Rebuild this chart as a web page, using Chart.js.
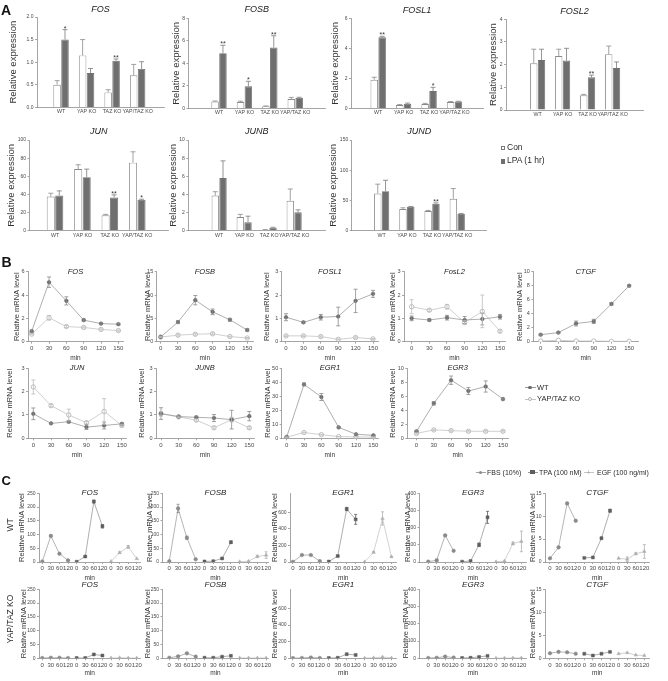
<!DOCTYPE html>
<html>
<head>
<meta charset="utf-8">
<script src="https://cdn.jsdelivr.net/npm/chart.js@4.4.1/dist/chart.umd.min.js"></script>
<style>
  html, body { margin: 0; padding: 0; background: #fff; }
  body { width: 668px; height: 681px; position: relative; overflow: hidden;
         font-family: 'Liberation Sans', Arial, Helvetica, sans-serif; }
</style>
</head>
<body>
<script>
// ---------- data ----------
// panel A: relative expression, Con vs LPA (1 hr)
const groups = ['WT', 'YAP KO', 'TAZ KO', 'YAP/TAZ KO'];
const aGenes = ['FOS', 'FOSB', 'FOSL1', 'FOSL2', 'JUN', 'JUNB', 'JUND'];
const aCon = [[0.50, 1.15, 0.33, 0.71], [0.60, 0.55, 0.18, 0.82], [1.90, 0.22, 0.28, 0.42],
  [2.06, 2.38, 0.65, 2.46], [37.6, 67.9, 17.0, 75.0], [3.87, 1.50, 0.10, 3.30], [61.5, 35.7, 32.4, 52.7]];
const aConErr = [[0.09, 0.35, 0.06, 0.24], [0.05, 0.08, 0.03, 0.15], [0.17, 0.03, 0.05, 0.03],
  [0.62, 0.30, 0.04, 0.36], [3.7, 4.8, 1.0, 12], [0.43, 0.30, 0.03, 1.3], [15.5, 2.2, 1.1, 17]];
const aLpa = [[1.50, 0.76, 1.03, 0.85], [4.90, 1.95, 5.40, 0.92], [4.73, 0.30, 1.15, 0.45],
  [2.20, 2.18, 1.44, 1.85], [38.7, 59.0, 36.5, 34.0], [5.80, 0.92, 0.33, 2.03], [65.4, 39.6, 44.5, 28.0]];
const aLpaErr = [[0.22, 0.10, 0.04, 0.16], [0.70, 0.45, 1.05, 0.06], [0.07, 0.05, 0.25, 0.02],
  [0.48, 0.54, 0.10, 0.27], [5.2, 8.9, 3.0, 0.7], [1.9, 0.68, 0.05, 0.27], [18, 0.5, 1.5, 0.5]];
const aStars = [['*', '', '**', ''], ['**', '*', '**', ''], ['**', '', '*', ''], ['', '', '**', ''],
  ['', '', '**', '*'], ['', '', '', ''], ['', '', '**', '']];
const aYMax = [2, 8, 6, 4, 100, 10, 150];
const aYStep = [0.5, 2, 2, 1, 20, 2, 50];

// panel B: time course, WT vs YAP/TAZ KO
const bMinutes = [0, 30, 60, 90, 120, 150];
const bGenes = ['FOS', 'FOSB', 'FOSL1', 'FosL2', 'CTGF', 'JUN', 'JUNB', 'EGR1', 'EGR3'];
const bWt = [[0.9, 5.1, 3.5, 1.85, 1.55, 1.5], [1.0, 4.2, 8.9, 6.4, 4.7, 2.5], [1.05, 0.83, 1.05, 1.08, 1.75, 2.05],
  [1.0, 0.93, 1.03, 0.93, 0.97, 1.07], [1.0, 1.3, 2.6, 2.9, 5.4, 8.0], [1.05, 0.64, 0.71, 0.48, 0.55, 0.62],
  [1.06, 0.93, 0.9, 0.87, 0.8, 0.95], [0.8, 38.5, 29.5, 7.8, 2.9, 2.1], [1.0, 5.0, 8.3, 6.75, 7.4, 5.6]];
const bWtErr = [[0.1, 0.45, 0.35, 0.1, 0.08, 0.08], [0.1, 0.3, 1.0, 0.6, 0.3, 0.3], [0.15, 0.04, 0.12, 0.4, 0.5, 0.15],
  [0.1, 0.05, 0.1, 0.15, 0.25, 0.1], [0.1, 0.1, 0.35, 0.3, 0.2, 0.15], [0.25, 0.03, 0.05, 0.1, 0.15, 0.05],
  [0.25, 0.03, 0.05, 0.15, 0.4, 0.2], [0.3, 1.0, 2.5, 0.5, 0.3, 0.3], [0.1, 0.25, 0.6, 0.5, 0.8, 0.1]];
const bKo = [[0.65, 2.05, 1.3, 1.22, 1.05, 0.95], [1.0, 1.4, 1.6, 1.7, 1.1, 0.8], [0.25, 0.25, 0.22, 0.1, 0.18, 0.12],
  [1.5, 1.35, 1.5, 0.82, 1.3, 0.45], [0.1, 0.2, 0.1, 0.1, 0.05, 0.05], [2.2, 1.4, 1.0, 0.67, 1.15, 0.55],
  [1.05, 0.92, 0.78, 0.45, 0.8, 0.45], [0.8, 4.1, 2.6, 1.2, 1.0, 0.9], [0.7, 1.2, 1.1, 1.0, 1.0, 1.0]];
const bKoErr = [[0.05, 0.2, 0.08, 0.05, 0.05, 0.05], [0.1, 0.2, 0.2, 0.2, 0.1, 0.1], [0.03, 0.03, 0.03, 0.02, 0.03, 0.02],
  [0.3, 0.05, 0.1, 0.08, 0.7, 0.05], [0, 0, 0, 0, 0, 0], [0.3, 0.05, 0.25, 0.05, 0.55, 0.05],
  [0.1, 0.03, 0.05, 0.05, 0.1, 0.05], [0.2, 0.3, 0.3, 0.1, 0.1, 0.1], [0.1, 0.1, 0.1, 0.1, 0.1, 0.1]];
const bYMax = [6, 15, 3, 3, 10, 3, 3, 50, 10];
const bYStep = [2, 5, 1, 1, 2, 1, 1, 10, 2];

// panel C: FBS / TPA / EGF stimulation, WT and YAP/TAZ KO
const cTickLabels = ['0', '30', '60', '120'];
const cGenes = ['FOS', 'FOSB', 'EGR1', 'EGR3', 'CTGF'];
const cFbsWt = [[2, 95, 30, 6], [3, 195, 88, 10], [2, 84, 84, 10], [2, 10, 155, 65], [0.8, 3.2, 12.8, 9.0]];
const cTpaWt = [[1, 20, 220, 130], [2, 3, 13, 72], [5, 72, 640, 515], [2, 6, 100, 260], [0.9, 1.0, 5.2, 11.2]];
const cEgfWt = [[2, 34, 55, 12], [1, 3, 20, 25], [2, 117, 526, 63], [1, 6, 108, 120], [0.8, 0.6, 1.8, 2.3]];
const cFbsWtErr = [[0, 3, 2, 0], [0, 15, 6, 0], [0, 4, 4, 0], [0, 6, 4, 0], [0, 0.2, 0.2, 0.2]];
const cTpaWtErr = [[0, 2, 5, 6], [0, 0, 2, 4], [0, 5, 20, 60], [0, 0, 10, 35], [0, 0, 0.2, 0.3]];
const cEgfWtErr = [[0, 3, 5, 0], [0, 0, 4, 12], [0, 8, 80, 5], [0, 0, 8, 60], [0, 0.5, 0.2, 1.5]];
const cFbsKo = [[1, 2, 2, 1], [2, 7, 18, 6], [3, 4, 10, 4], [2, 3, 10, 4], [1.1, 1.4, 1.3, 1.0]];
const cTpaKo = [[1, 1, 14, 10], [2, 2, 6, 9], [4, 6, 50, 40], [2, 3, 8, 14], [1.0, 0.6, 1.0, 1.4]];
const cEgfKo = [[1, 2, 1, 1], [1, 1, 1, 1], [2, 6, 15, 4], [1, 1, 2, 2], [1.0, 1.2, 0.7, 0.6]];
const cYMax = [250, 250, 830, 400, 15];
const cYTickMax = [250, 250, 600, 400, 15];
const cYStep = [50, 50, 200, 100, 5];

// ---------- layout (plot left, top, right, bottom, y-title x, title dy, x min, x max) ----------
const aLayout = [
  [37, 17, 164, 107.3, 13, -7.7, -0.32, 3.41],
  [188.5, 18.3, 325, 108.3, 176.7, -8.6, -0.53, 3.5],
  [351, 18.3, 483, 108.3, 335, -8.3, -0.42, 3.47],
  [506, 19.3, 643, 110, 493.3, -7.6, -0.58, 3.53],
  [29.5, 140, 168, 230.7, 11.7, -9, -0.3, 3.49],
  [188.3, 140, 325, 230.7, 173.3, -9, -0.55, 3.55],
  [351.7, 140, 486.7, 230.7, 333.3, -9, -0.52, 3.5]
];
const bLayout = [
  [28, 271.7, 123, 341.7, 17, -6.4, 158],
  [156.7, 271.7, 253, 341.7, 148.3, -6.9, 160],
  [281.7, 271.7, 378, 341.7, 266.7, -7.4, 158.6],
  [404, 271.7, 505, 341.7, 392.5, -13, 158.5],
  [533.3, 271.7, 638, 341.7, 520, -12.5, 165],
  [28, 368.3, 126, 438.3, 10, -9, 157],
  [156, 368.3, 254, 438.3, 141.7, -8.5, 158],
  [281.7, 368.3, 378, 438.3, 267.5, -8.6, 158],
  [407.3, 368.3, 508, 438.3, 392.5, -16, 158.7]
];
const cCols = [
  [39, 141, -0.38, 11.43],
  [162.5, 268.5, -0.77, 11.27],
  [290, 397, -0.33, 11.56],
  [419.5, 527, -1.03, 11.6],
  [545, 650, -0.58, 11.6]
];
const cTitleX = [[21.7, 150, 275, 408.3, 532.5], [24, 148, 275, 406, 532.5]];
const cRows = [[493.3, 562, -1, 19], [589.3, 658.3, -4.3, 17.3]];

// ---------- setup ----------
const FONT = "'Liberation Sans', Arial, Helvetica, sans-serif";
const AXIS = '#8e8e8e';
Chart.defaults.font.family = FONT;
Chart.defaults.color = '#4a4a4a';
Chart.defaults.animation = false;
Chart.defaults.responsive = false;
Chart.defaults.devicePixelRatio = 1;
Chart.defaults.plugins.legend.display = false;
Chart.defaults.plugins.tooltip.enabled = false;

// gene titles, error bars and significance stars
const figMarks = {
  id: 'figMarks',
  afterDatasetsDraw(chart) {
    const { ctx } = chart;
    const y = chart.scales.y;
    chart.data.datasets.forEach((ds, i) => {
      if (!ds.errors) return;
      const meta = chart.getDatasetMeta(i);
      ctx.save();
      ctx.strokeStyle = ds.errColor;
      ctx.lineWidth = 0.8;
      meta.data.forEach((el, j) => {
        const e = ds.errors[j];
        if (!e) return;
        const v = ds.data[j].y;
        const top = y.getPixelForValue(v + e);
        const bot = ds.errBoth ? y.getPixelForValue(Math.max(v - e, 0)) : el.y;
        const cw = ds.capW;
        ctx.beginPath();
        ctx.moveTo(el.x, bot); ctx.lineTo(el.x, top);
        ctx.moveTo(el.x - cw / 2, top); ctx.lineTo(el.x + cw / 2, top);
        if (ds.errBoth) { ctx.moveTo(el.x - cw / 2, bot); ctx.lineTo(el.x + cw / 2, bot); }
        ctx.stroke();
        if (ds.stars && ds.stars[j]) {
          ctx.fillStyle = '#333';
          ctx.font = '7px ' + FONT;
          ctx.textAlign = 'center';
          ctx.textBaseline = 'alphabetic';
          ctx.fillText(ds.stars[j], el.x, top + 1);
        }
      });
      ctx.restore();
    });
  },
  afterDraw(chart, args, opts) {
    if (!opts.text) return;
    const { ctx, chartArea } = chart;
    ctx.save();
    ctx.font = `italic ${opts.size}px ${FONT}`;
    ctx.fillStyle = '#222';
    ctx.textAlign = 'center';
    ctx.textBaseline = 'middle';
    ctx.fillText(opts.text, (chartArea.left + chartArea.right) / 2, chartArea.top + opts.dy);
    ctx.restore();
  }
};
Chart.register(figMarks);

function mount(L, T, R, B, titleX, tSize, xH, padT, padR) {
  const x = Math.floor(titleX - tSize / 2 - 0.5);
  const y = Math.floor(T - padT);
  const w = Math.ceil(R + padR) - x;
  const h = Math.ceil(B + xH) - y;
  const c = document.createElement('canvas');
  c.width = w; c.height = h;
  c.style.cssText = `position:absolute;left:${x}px;top:${y}px;width:${w}px;height:${h}px`;
  document.body.appendChild(c);
  return { c, yW: L - x, xH: y + h - B, padT: T - y, padR: x + w - R, tPad: titleX - tSize / 2 - x };
}

function yAxis(m, max, step, tickMax, fmt, title, tSize, tickSize) {
  return {
    type: 'linear', min: 0, max,
    afterBuildTicks: s => {
      const t = [];
      for (let k = 0; k * step <= tickMax + 1e-9; k++) t.push({ value: +(k * step).toFixed(6) });
      s.ticks = t;
    },
    ticks: { font: { size: tickSize }, padding: 1.5, callback: fmt, autoSkip: false },
    grid: { drawOnChartArea: false, tickLength: 2, color: AXIS, lineWidth: 0.8 },
    border: { color: AXIS, width: 0.8 },
    title: { display: true, text: title, color: '#333', font: { size: tSize, lineHeight: 1 }, padding: { top: m.tPad, bottom: 0 } },
    afterFit: s => { s.width = m.yW; }
  };
}

function xAxis(m, min, max, values, label, tickSize, withTitle) {
  return {
    type: 'linear', min, max,
    afterBuildTicks: s => { s.ticks = values.map(v => ({ value: v })); },
    ticks: { font: { size: tickSize }, padding: withTitle ? 1 : 1.5, maxRotation: 0, minRotation: 0, autoSkip: false, callback: label },
    grid: { drawOnChartArea: false, drawTicks: withTitle, tickLength: 2, color: AXIS, lineWidth: 0.8 },
    border: { color: AXIS, width: 0.8 },
    title: { display: withTitle, text: 'min', color: '#333', font: { size: 6.5, lineHeight: 1 }, padding: 0 },
    afterFit: s => { s.height = m.xH; }
  };
}

// ---------- panel A ----------
aGenes.forEach((gene, g) => {
  const [L, T, R, B, tx, dy, xmin, xmax] = aLayout[g];
  const m = mount(L, T, R, B, tx, 9.5, 10, 15, 4);
  const fmt = aYStep[g] < 1 ? v => v.toFixed(1) : v => v;
  new Chart(m.c, {
    type: 'bar',
    data: {
      datasets: [
        { data: aCon[g].map((v, i) => ({ x: i, y: v })), backgroundColor: '#ffffff', borderColor: '#8a8a8a', borderWidth: 0.9,
          barPercentage: 0.95, categoryPercentage: 0.62, errors: aConErr[g], errColor: '#8a8a8a', capW: 5 },
        { data: aLpa[g].map((v, i) => ({ x: i, y: v })), backgroundColor: '#6f6f6f', borderColor: '#6f6f6f', borderWidth: 0.9,
          barPercentage: 0.95, categoryPercentage: 0.62, errors: aLpaErr[g], errColor: '#7a7a7a', capW: 5, stars: aStars[g] }
      ]
    },
    options: {
      layout: { padding: { top: m.padT, right: m.padR, left: 0, bottom: 0 } },
      scales: {
        x: xAxis(m, xmin, xmax, [0, 1, 2, 3], v => groups[Math.round(v)], 5.3, false),
        y: yAxis(m, aYMax[g], aYStep[g], aYMax[g], fmt, 'Relative expression', 9.5, 5)
      },
      plugins: { figMarks: { text: gene, size: 9, dy } }
    }
  });
});

// ---------- panel B ----------
bGenes.forEach((gene, g) => {
  const [L, T, R, B, tx, xmin, xmax] = bLayout[g];
  const m = mount(L, T, R, B, tx, 7.5, 18.9, 7, 6);
  new Chart(m.c, {
    type: 'line',
    data: {
      datasets: [
        { data: bMinutes.map((t, i) => ({ x: t, y: bWt[g][i] })), borderColor: '#9a9a9a', borderWidth: 0.8,
          pointRadius: 1.8, pointBackgroundColor: '#6a6a6a', pointBorderColor: '#6a6a6a', pointBorderWidth: 0.6,
          errors: bWtErr[g], errColor: '#8a8a8a', errBoth: true, capW: 4 },
        { data: bMinutes.map((t, i) => ({ x: t, y: bKo[g][i] })), borderColor: '#c4c4c4', borderWidth: 0.8,
          pointRadius: 2.2, pointBackgroundColor: '#ffffff', pointBorderColor: '#b0b0b0', pointBorderWidth: 0.8,
          errors: bKoErr[g], errColor: '#bdbdbd', errBoth: true, capW: 4 }
      ]
    },
    options: {
      layout: { padding: { top: m.padT, right: m.padR, left: 0, bottom: 0 } },
      scales: {
        x: xAxis(m, xmin, xmax, bMinutes, v => v, 6, true),
        y: yAxis(m, bYMax[g], bYStep[g], bYMax[g], v => v, 'Relative mRNA level', 7.5, 5.5)
      },
      plugins: { figMarks: { text: gene, size: 7.5, dy: 0 } }
    }
  });
});

// ---------- panel C ----------
const cIdx = [0, 1, 2, 3, 4, 5, 6, 7, 8, 9, 10, 11];
const cStyles = [
  { line: '#a2a2a2', fill: '#8a8a8a', shape: 'circle', rad: 1.8 },
  { line: '#9a9a9a', fill: '#5e5e5e', shape: 'rect', rad: 2.1 },
  { line: '#c6c6c6', fill: '#b0b0b0', shape: 'triangle', rad: 2.0 }
];
[[cFbsWt, cTpaWt, cEgfWt], [cFbsKo, cTpaKo, cEgfKo]].forEach((rowSets, r) => {
  const [T, B, dy, xH] = cRows[r];
  cGenes.forEach((gene, g) => {
    const [L, R, xmin, xmax] = cCols[g];
    const m = mount(L, T, R, B, cTitleX[r][g], 7.5, xH, 7, 4);
    const errs = r === 0 ? [cFbsWtErr[g], cTpaWtErr[g], cEgfWtErr[g]] : [null, null, null];
    const datasets = rowSets.map((set, s) => ({
      data: set[g].map((v, k) => ({ x: s * 4 + k, y: v })),
      borderColor: cStyles[s].line, borderWidth: 0.8,
      pointStyle: cStyles[s].shape, pointRadius: cStyles[s].rad,
      pointBackgroundColor: cStyles[s].fill, pointBorderColor: cStyles[s].fill, pointBorderWidth: 0.5,
      errors: errs[s], errColor: cStyles[s].fill, errBoth: true, capW: 3
    }));
    new Chart(m.c, {
      type: 'line',
      data: { datasets },
      options: {
        layout: { padding: { top: m.padT, right: m.padR, left: 0, bottom: 0 } },
        scales: {
          x: xAxis(m, xmin, xmax, cIdx, v => cTickLabels[Math.round(v) % 4], 6, true),
          y: yAxis(m, cYMax[g], cYStep[g], cYTickMax[g], v => v, 'Relative mRNA level', 7.5, 5)
        },
        plugins: { figMarks: { text: gene, size: 8, dy } }
      }
    });
  });
});

// ---------- panel letters, row labels, legends ----------
function addText(txt, x, base, size, extra) {
  const d = document.createElement('div');
  d.textContent = txt;
  d.style.cssText = `position:absolute;left:${x}px;top:${base - 0.8465 * size}px;font-size:${size}px;line-height:1;white-space:nowrap;color:#2a2a2a;${extra || ''}`;
  document.body.appendChild(d);
  return d;
}
function addShape(x, y, w, h, css) {
  const d = document.createElement('div');
  d.style.cssText = `position:absolute;left:${x}px;top:${y}px;width:${w}px;height:${h}px;box-sizing:border-box;${css}`;
  document.body.appendChild(d);
}
function addRotated(txt, cx, cy, size) {
  const d = document.createElement('div');
  d.textContent = txt;
  d.style.cssText = `position:absolute;left:${cx}px;top:${cy}px;font-size:${size}px;line-height:1;white-space:nowrap;color:#2a2a2a;transform:translate(-50%,-50%) rotate(-90deg);`;
  document.body.appendChild(d);
}

addText('A', 1, 15, 14, 'font-weight:bold;color:#111');
addText('B', 1.5, 266.7, 14, 'font-weight:bold;color:#111');
addText('C', 1.5, 485.5, 13, 'font-weight:bold;color:#111');

// A legend
addShape(500.5, 145.5, 4.8, 4.8, 'border:0.8px solid #7a7a7a;background:#fff');
addText('Con', 507, 150.5, 8.5);
addShape(500.5, 158.8, 4.8, 4.8, 'background:#6f6f6f');
addText('LPA (1 hr)', 507, 163.6, 8.5);

// B legend
addShape(524.5, 387.3, 11, 0.8, 'background:#9a9a9a');
addShape(528.2, 385.9, 3.6, 3.6, 'border-radius:50%;background:#6a6a6a');
addText('WT', 537, 390.4, 7.5);
addShape(524.5, 398.6, 11, 0.8, 'background:#c4c4c4');
addShape(527.8, 396.8, 4.4, 4.4, 'border-radius:50%;border:0.8px solid #b0b0b0;background:#fff');
addText('YAP/TAZ KO', 537, 401.7, 7.5);

// C legend
addShape(475.5, 472, 10, 0.8, 'background:#a2a2a2');
addShape(478.7, 470.6, 3.6, 3.6, 'border-radius:50%;background:#8a8a8a');
addText('FBS (10%)', 487, 474.7, 7);
addShape(527.5, 472, 10, 0.8, 'background:#9a9a9a');
addShape(530.4, 470.3, 4.2, 4.2, 'background:#5e5e5e');
addText('TPA (100 nM)', 539, 474.7, 7);
addShape(584, 472, 10, 0.8, 'background:#c6c6c6');
addText('+', 586.6, 474.8, 7, 'color:#a8a8a8');
addText('EGF (100 ng/ml)', 597, 474.7, 7);

addRotated('WT', 9.5, 525, 8.5);
addRotated('YAP/TAZ KO', 9.5, 618.5, 8.5);
</script>
</body>
</html>
